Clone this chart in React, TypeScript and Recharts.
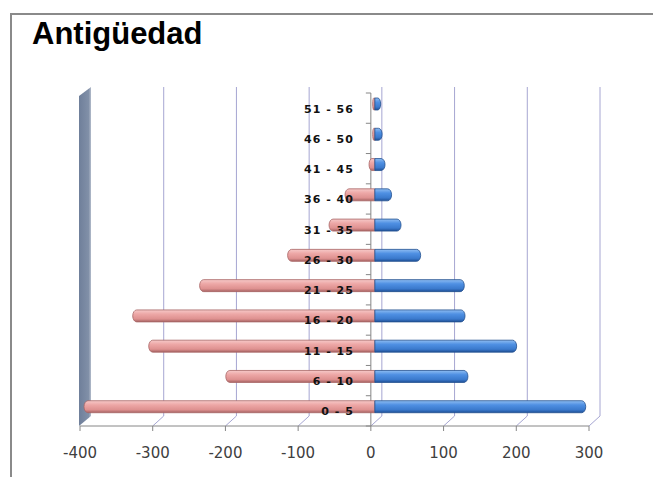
import { Bar, BarChart, CartesianGrid, LabelList, XAxis, YAxis } from "recharts";

// seniority ranges, bottom to top
const RANGOS = [
  "0 - 5",
  "6 - 10",
  "11 - 15",
  "16 - 20",
  "21 - 25",
  "26 - 30",
  "31 - 35",
  "36 - 40",
  "41 - 45",
  "46 - 50",
  "51 - 56",
];
const ROSA = [-400, -205, -311, -333, -241, -120, -63, -41, -8, -3, -3];
const AZUL = [290, 128, 195, 124, 123, 63, 36, 23, 14, 10, 8];
const X_TICKS = [-400, -300, -200, -100, 0, 100, 200, 300];

const data = RANGOS.map((rango, i) => ({ rango, rosa: ROSA[i], azul: AZUL[i] }));

const W = 653;
const H = 477;
const MARGIN = { top: 93, right: 64, bottom: 21, left: 80 };
const X_AXIS_HEIGHT = 30;
const PLOT_WIDTH = W - MARGIN.left - MARGIN.right;

// fake 3D: back wall offset, and bars sit half way in depth
const DEPTH_X = 11;
const DEPTH_Y = -10;
const BAR_DX = 4;
const BAR_DY = -4;

const GRID_COLOR = "#a6a6d2";
const AXIS_COLOR = "#868686";

function tickValue(px: number) {
  const lo = X_TICKS[0];
  const hi = X_TICKS[X_TICKS.length - 1];
  return lo + ((px - MARGIN.left) / PLOT_WIDTH) * (hi - lo);
}

function GridLine(props: any) {
  const { x1, y1, y2, index } = props;
  const value = tickValue(x1);
  const backX = x1 + DEPTH_X;
  const backBottom = y2 + DEPTH_Y;

  // leftmost line becomes the side wall
  if (Math.abs(value - X_TICKS[0]) < 1) {
    return (
      <polygon
        key={`grid-${index}`}
        points={`${x1 - 1},${y1 + 3} ${backX},${y1 - 6} ${backX},${backBottom} ${x1 - 1},${y2}`}
        fill="url(#wallFill)"
      />
    );
  }

  const n = RANGOS.length;
  const step = (y2 - y1) / n;
  return (
    <g key={`grid-${index}`}>
      <line x1={backX} y1={y1 - 6} x2={backX} y2={backBottom} stroke={GRID_COLOR} />
      <line x1={x1} y1={y2} x2={backX} y2={backBottom} stroke={GRID_COLOR} />
      {Math.abs(value) < 1 && (
        <g stroke={AXIS_COLOR}>
          <line x1={x1} y1={y1} x2={x1} y2={y2} />
          {Array.from({ length: n + 1 }, (_, k) => (
            <line key={k} x1={x1 - 5} y1={y1 + k * step} x2={x1} y2={y1 + k * step} />
          ))}
        </g>
      )}
    </g>
  );
}

function cylinder(props: any, cap: "left" | "right", fill: string, edge: string) {
  const { x, y, width, height } = props;
  if (!width || !height) return <g />;
  const left = Math.min(x, x + width) + BAR_DX;
  const w = Math.abs(width);
  const top = y + BAR_DY;
  const h = height;
  const ry = h / 2;
  const rx = Math.min(4, w / 2);
  const d =
    cap === "right"
      ? `M${left},${top} H${left + w - rx} A${rx},${ry} 0 0 1 ${left + w - rx},${top + h} H${left} Z`
      : `M${left + w},${top} H${left + rx} A${rx},${ry} 0 0 0 ${left + rx},${top + h} H${left + w} Z`;
  return <path d={d} fill={fill} stroke={edge} strokeWidth={0.8} />;
}

const PinkBar = (props: any) => cylinder(props, "left", "url(#pinkFill)", "#a86666");
const BlueBar = (props: any) => cylinder(props, "right", "url(#blueFill)", "#23508f");

function RangoLabel(props: any) {
  const vb = props.viewBox ?? props;
  const zeroX = vb.x;
  return (
    <text
      x={zeroX - 17}
      y={vb.y + vb.height / 2 + 1}
      textAnchor="end"
      dominantBaseline="central"
      fontFamily="DejaVu Sans"
      fontWeight="bold"
      fontSize={11}
      letterSpacing={1}
      fill="#111"
    >
      {props.value}
    </text>
  );
}

export default function App() {
  return (
    <div style={{ position: "relative", width: W, height: H, overflow: "hidden", background: "#fff" }}>
      <style>{`body{margin:0}`}</style>
      <div
        style={{
          position: "absolute",
          left: 10,
          top: 13,
          width: 700,
          height: 600,
          border: "2px solid #8a8a8a",
        }}
      />
      <div
        style={{
          position: "absolute",
          left: 32,
          top: 18,
          fontFamily: "Liberation Sans, Arial, sans-serif",
          fontWeight: "bold",
          fontSize: 31,
          lineHeight: 1,
          color: "#000",
        }}
      >
        Antigüedad
      </div>
      <div style={{ position: "absolute", left: 0, top: 0 }}>
        <BarChart
          width={W}
          height={H}
          data={data}
          layout="vertical"
          stackOffset="sign"
          barSize={12}
          margin={MARGIN}
        >
          <defs>
            <linearGradient id="pinkFill" x1="0" y1="0" x2="0" y2="1">
              <stop offset="0" stopColor="#f6c9c8" />
              <stop offset="0.35" stopColor="#eda7a6" />
              <stop offset="0.75" stopColor="#de9190" />
              <stop offset="1" stopColor="#a56262" />
            </linearGradient>
            <linearGradient id="blueFill" x1="0" y1="0" x2="0" y2="1">
              <stop offset="0" stopColor="#8fbdf2" />
              <stop offset="0.35" stopColor="#4f90e3" />
              <stop offset="0.75" stopColor="#3b7acd" />
              <stop offset="1" stopColor="#1f4f96" />
            </linearGradient>
            <linearGradient id="wallFill" x1="0" y1="0" x2="1" y2="0">
              <stop offset="0" stopColor="#6f7f9a" />
              <stop offset="0.8" stopColor="#8190a8" />
              <stop offset="1" stopColor="#b3bccb" />
            </linearGradient>
          </defs>
          <CartesianGrid horizontal={false} vertical={GridLine} />
          <XAxis
            type="number"
            domain={[X_TICKS[0], X_TICKS[X_TICKS.length - 1]]}
            ticks={X_TICKS}
            interval={0}
            height={X_AXIS_HEIGHT}
            axisLine={{ stroke: AXIS_COLOR }}
            tickLine={{ stroke: AXIS_COLOR }}
            tickSize={5}
            tickMargin={16}
            tick={{ fill: "#404040", fontSize: 15, fontFamily: "DejaVu Sans" }}
          />
          <YAxis type="category" dataKey="rango" reversed hide />
          <Bar dataKey="rosa" stackId="s" shape={PinkBar} isAnimationActive={false} />
          <Bar dataKey="azul" stackId="s" shape={BlueBar} isAnimationActive={false}>
            <LabelList dataKey="rango" content={RangoLabel} />
          </Bar>
        </BarChart>
      </div>
    </div>
  );
}
